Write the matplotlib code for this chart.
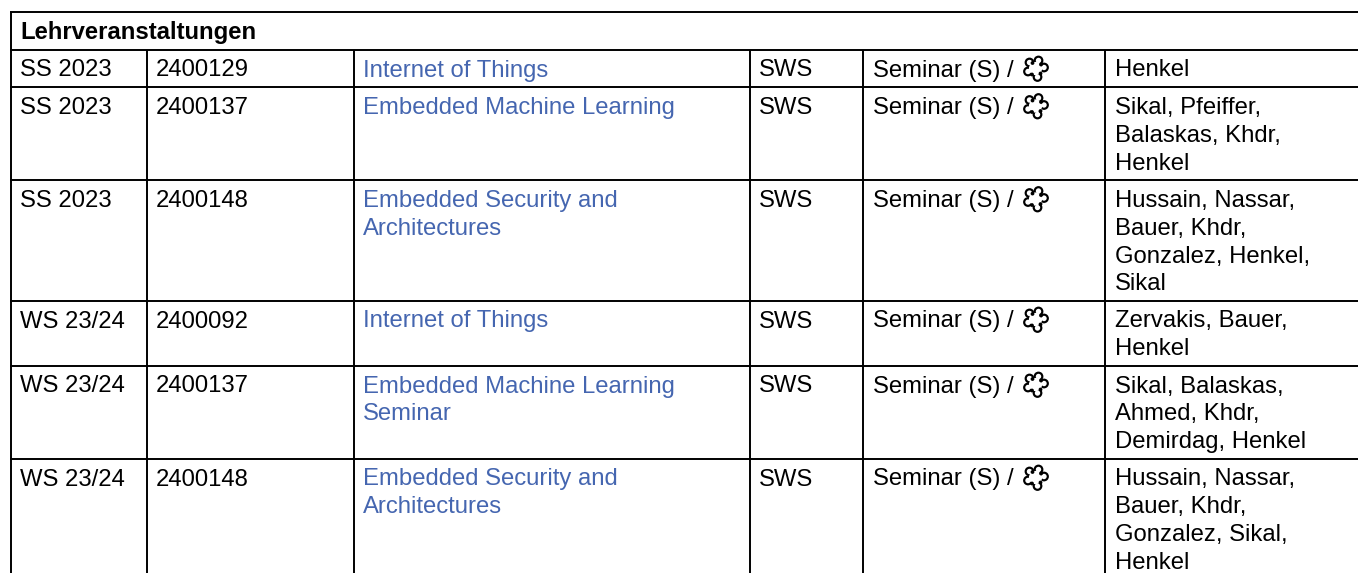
import matplotlib
matplotlib.use("Agg")
import matplotlib.pyplot as plt
from matplotlib.patches import Circle

plt.rcParams['font.family'] = ['Liberation Sans', 'DejaVu Sans']

title = "Lehrveranstaltungen"
semesters = ["SS 2023", "SS 2023", "SS 2023", "WS 23/24", "WS 23/24", "WS 23/24"]
numbers = ["2400129", "2400137", "2400148", "2400092", "2400137", "2400148"]
courses = [
    ["Internet of Things"],
    ["Embedded Machine Learning"],
    ["Embedded Security and", "Architectures"],
    ["Internet of Things"],
    ["Embedded Machine Learning", "Seminar"],
    ["Embedded Security and", "Architectures"],
]
sws = ["SWS"] * 6
types = ["Seminar (S) /"] * 6
people = [
    ["Henkel"],
    ["Sikal, Pfeiffer,", "Balaskas, Khdr,", "Henkel"],
    ["Hussain, Nassar,", "Bauer, Khdr,", "Gonzalez, Henkel,", "Sikal"],
    ["Zervakis, Bauer,", "Henkel"],
    ["Sikal, Balaskas,", "Ahmed, Khdr,", "Demirdag, Henkel"],
    ["Hussain, Nassar,", "Bauer, Khdr,", "Gonzalez, Sikal,", "Henkel"],
]

W, H = 1358, 573
row_lines = [49.5, 87, 180, 300.5, 365.5, 458.5]
col_lines = [10.5, 146.5, 353.5, 749.5, 863, 1104.5]
col_text = [20, 156, 363, 759, 873, 1115]
LINK = "#4566B0"
FS = 17.2
LEAD = 27.8

fig = plt.figure(figsize=(W / 100, H / 100), dpi=100)
ax = fig.add_axes([0, 0, 1, 1])
ax.set_xlim(0, W)
ax.set_ylim(H, 0)
ax.axis("off")

line = dict(color="black", lw=1.4, solid_capstyle="butt")
ax.plot([10, W], [12, 12], **line)
for y in row_lines:
    ax.plot([10, W], [y, y], **line)
ax.plot([col_lines[0]] * 2, [12, H], **line)
for x in col_lines[1:]:
    ax.plot([x, x], [row_lines[0], H], **line)


def cell(x, y, lines, color="black", weight="normal"):
    for i, s in enumerate(lines):
        ax.text(x, y + i * LEAD, s, fontsize=FS, color=color, fontweight=weight,
                ha="left", va="baseline")


def puzzle(cx, cy):
    lobes = [(3, -8), (8.5, -1), (2, 8.5), (-7.5, 3), (-6, -6)]
    for dx, dy in lobes:
        ax.add_patch(Circle((cx + dx, cy + dy), 4.9, fc="black", ec="none", zorder=3))
    for dx, dy in lobes:
        ax.add_patch(Circle((cx + dx, cy + dy), 2.7, fc="white", ec="none", zorder=4))
    ax.add_patch(Circle((cx, cy), 6.6, fc="white", ec="none", zorder=4))
    for dx, dy in [(-3, -5.5), (5.5, -4), (5, 5), (-3.5, 6)]:
        ax.add_patch(Circle((cx + dx, cy + dy), 1.9, fc="black", ec="none", zorder=5))


cell(col_text[0], 39.5, [title], weight="bold")
for i in range(len(semesters)):
    base = row_lines[i] + 27
    cell(col_text[0], base, [semesters[i]])
    cell(col_text[1], base, [numbers[i]])
    cell(col_text[2], base, courses[i], color=LINK)
    cell(col_text[3], base, [sws[i]])
    cell(col_text[4], base, [types[i]])
    puzzle(1035.5, row_lines[i] + 19)
    cell(col_text[5], base, people[i])

fig.savefig("out.png", dpi=100)
